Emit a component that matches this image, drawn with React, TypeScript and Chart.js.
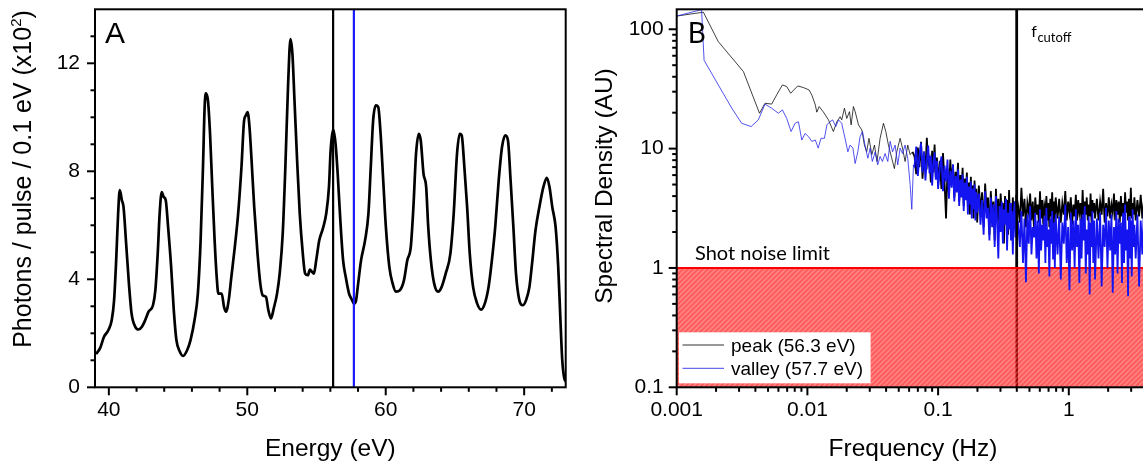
import React, { useEffect, useRef } from "react";
import { Chart, registerables } from "chart.js";

Chart.register(...registerables);

// ---------- Panel A: photon spectrum ----------
const energyEv = [
  39.07, 39.36, 39.65, 39.97, 40.21, 40.38, 40.53, 40.67, 40.79, 40.94, 41.06, 41.25, 41.45, 41.64, 41.91,
  42.15, 42.39, 42.63, 42.87, 43.19, 43.36, 43.53, 43.67, 43.82, 43.96, 44.11, 44.28, 44.5, 44.69, 44.88,
  45.13, 45.37, 45.66, 45.9, 46.19, 46.43, 46.63, 46.8, 46.92, 47.01, 47.16, 47.31, 47.47, 47.64, 47.79,
  47.91, 48.15, 48.32, 48.47, 48.66, 48.85, 49.1, 49.34, 49.58, 49.77, 49.9, 50.02, 50.16, 50.31, 50.5,
  50.74, 50.94, 51.11, 51.35, 51.52, 51.71, 51.91, 52.15, 52.34, 52.56, 52.75, 52.95, 53.12, 53.26, 53.41,
  53.6, 53.79, 54.01, 54.18, 54.38, 54.52, 54.67, 54.81, 54.98, 55.2, 55.46, 55.7, 55.9, 56.02, 56.2,
  56.38, 56.53, 56.72, 56.92, 57.11, 57.35, 57.55, 57.7, 57.85, 57.98, 58.22, 58.51, 58.75, 58.92, 59.09,
  59.29, 59.46, 59.63, 59.82, 60.01, 60.26, 60.5, 60.74, 61.03, 61.32, 61.56, 61.81, 62.0, 62.19, 62.39,
  62.53, 62.73, 62.92, 63.07, 63.26, 63.5, 63.79, 64.04, 64.33, 64.67, 64.91, 65.15, 65.35, 65.49, 65.68,
  65.88, 66.07, 66.31, 66.6, 66.89, 67.16, 67.43, 67.67, 67.91, 68.16, 68.4, 68.64, 68.83, 69.02, 69.22,
  69.41, 69.65, 69.9, 70.14, 70.38, 70.57, 70.82, 71.1, 71.39, 71.64, 71.83, 72.03, 72.27, 72.46, 72.61,
  72.75, 72.9, 73.04,
];
const photonsPerPulse = [
  1.23, 1.44, 1.87, 2.12, 2.49, 3.23, 4.71, 6.43, 7.3, 6.93, 6.68, 5.32, 3.84, 2.74, 2.24,
  2.14, 2.24, 2.49, 2.8, 3.04, 3.6, 4.95, 6.43, 7.23, 7.05, 6.93, 5.94, 4.46, 2.86, 1.75,
  1.32, 1.16, 1.38, 1.75, 2.49, 3.47, 5.45, 8.16, 10.38, 10.89, 10.62, 9.39, 7.42, 5.45, 4.09,
  3.47, 3.47, 2.98, 2.8, 3.23, 4.09, 5.2, 6.43, 8.16, 9.88, 10.07, 10.19, 9.64, 8.4, 6.68,
  4.95, 3.84, 3.41, 3.35, 2.86, 2.55, 2.92, 3.47, 4.21, 5.69, 8.16, 11.24, 12.9, 12.35, 10.62,
  8.4, 6.43, 4.95, 4.21, 4.15, 4.36, 4.28, 4.21, 4.71, 5.45, 5.88, 6.43, 7.42, 8.77, 9.55,
  9.0, 7.91, 6.19, 4.71, 4.09, 3.47, 3.25, 3.1, 3.2, 3.72, 4.71, 5.45, 6.43, 8.16, 9.88,
  10.44, 10.38, 9.39, 7.66, 5.94, 4.46, 3.84, 3.54, 3.6, 3.97, 4.71, 5.2, 6.68, 8.65, 9.39,
  9.14, 7.91, 7.42, 5.94, 4.71, 3.84, 3.54, 3.72, 4.21, 4.95, 6.43, 8.65, 9.39, 9.33, 8.16,
  6.68, 4.95, 3.72, 3.11, 2.88, 3.11, 3.72, 4.71, 5.94, 7.66, 8.9, 9.33, 9.14, 7.66, 5.94,
  4.21, 3.23, 3.04, 3.23, 3.72, 4.58, 5.82, 6.68, 7.42, 7.76, 7.42, 6.68, 5.94, 4.46, 2.61,
  1.01, 0.33, 0.21,
];
const energyTicks = [40, 50, 60, 70];
const photonTicks = [0, 4, 8, 12];
const peakMarkerEv = 56.2;
const valleyMarkerEv = 57.7;

// ---------- Panel B: spectral density ----------
const peakFreqLow = [
  0.001, 0.0016, 0.00208, 0.00324, 0.0043, 0.00474, 0.00533, 0.00582, 0.00644, 0.00695, 0.00745, 0.00843,
  0.00931, 0.0103, 0.0108, 0.0115, 0.0118, 0.0123, 0.0132, 0.0145, 0.0158, 0.0168, 0.0178, 0.0183, 0.0192,
  0.02, 0.021, 0.0216, 0.0225, 0.0232, 0.0246, 0.0261, 0.0273, 0.0284, 0.0296, 0.0311, 0.0326, 0.0341,
  0.036, 0.0382, 0.0398, 0.0417, 0.0442, 0.0463, 0.0483, 0.0512, 0.0534, 0.0559, 0.0586, 0.0611, 0.0637,
];
const peakValsLow = [
  129, 139, 78.8, 44.2, 19.8, 24.0, 23.6, 28.2, 34.2, 33.1, 29.1, 33.5,
  32.5, 31.0, 28.2, 23.2, 20.2, 22.5, 20.4, 17.4, 13.9, 16.8, 18.5, 17.4, 21.8,
  17.9, 20.4, 15.8, 22.5, 20.4, 15.8, 14.3, 10.7, 9.4, 12.2, 8.9, 10.7, 7.8,
  12.2, 16.3, 13.9, 10.7, 8.3, 6.8, 9.4, 12.2, 10.1, 7.8, 10.7, 8.9, 9.4,
];
const valleyFreqLow = [
  0.001, 0.00155, 0.00162, 0.00208, 0.00264, 0.00314, 0.00371, 0.00421, 0.00474, 0.00533, 0.006, 0.00644,
  0.00695, 0.0075, 0.00805, 0.00854, 0.00906, 0.0096, 0.0102, 0.0108, 0.0115, 0.0121, 0.0127, 0.0135,
  0.0141, 0.0149, 0.0156, 0.0165, 0.0173, 0.0183, 0.0194, 0.0204, 0.0212, 0.0223, 0.0232, 0.0243, 0.0253,
  0.0264, 0.0276, 0.029, 0.0302, 0.0314, 0.033, 0.0345, 0.036, 0.0375, 0.0393, 0.0412, 0.043, 0.0448,
  0.0469, 0.0491, 0.0512, 0.0534, 0.0559, 0.0586, 0.0611, 0.0629, 0.0648,
];
const valleyValsLow = [
  129, 146, 55, 34.2, 21.8, 16.3, 15.3, 17.4, 23.6, 21.8, 19.8, 21.1,
  17.9, 13.9, 16.3, 16.8, 11.8, 13.4, 12.6, 11.5, 11.8, 10.1, 12.2, 12.2,
  15.8, 16.8, 17.4, 15.3, 17.4, 16.3, 12.2, 9.4, 10.7, 10.1, 7.5, 9.4, 12.6,
  13.9, 10.7, 8.3, 10.1, 7.8, 9.4, 7.3, 8.6, 7.8, 9.1, 7.8, 11.5, 9.4,
  10.7, 7.3, 10.1, 9.1, 10.7, 8.3, 5.0, 3.1, 7.3,
];
const denseFreq = [
  0.066, 0.068, 0.07, 0.072, 0.074, 0.076, 0.078, 0.08, 0.082, 0.084, 0.086, 0.088, 0.09, 0.092, 0.094, 0.096, 0.098, 0.1,
  0.103, 0.106, 0.109, 0.112, 0.115, 0.118, 0.121, 0.124, 0.127, 0.13, 0.133, 0.136, 0.139, 0.142, 0.145, 0.148, 0.151,
  0.154, 0.157, 0.16, 0.163, 0.166, 0.169, 0.172, 0.175, 0.178, 0.181, 0.184, 0.187, 0.19, 0.193, 0.196, 0.199,
  0.205, 0.211, 0.217, 0.223, 0.229, 0.235, 0.241, 0.247, 0.253, 0.259, 0.265, 0.271, 0.277, 0.283, 0.289, 0.295, 0.301,
  0.307, 0.313, 0.319, 0.325, 0.331, 0.337, 0.343, 0.349, 0.355, 0.361, 0.367, 0.373, 0.379, 0.385, 0.391, 0.397,
  0.41, 0.422, 0.434, 0.446, 0.458, 0.47, 0.482, 0.494, 0.506, 0.518, 0.53, 0.542, 0.554, 0.566, 0.578, 0.59, 0.602,
  0.614, 0.626, 0.638, 0.65, 0.662, 0.674, 0.686, 0.698, 0.71, 0.722, 0.734, 0.746, 0.758, 0.77, 0.782, 0.794,
  0.82, 0.844, 0.868, 0.892, 0.916, 0.94, 0.964, 0.988, 1.012, 1.036, 1.06, 1.084, 1.108, 1.132, 1.156, 1.18, 1.204,
  1.228, 1.252, 1.276, 1.3, 1.324, 1.348, 1.372, 1.396, 1.42, 1.444, 1.468, 1.492, 1.516, 1.54, 1.564, 1.588,
  1.64, 1.688, 1.736, 1.784, 1.832, 1.88, 1.928, 1.976, 2.024, 2.072, 2.12, 2.168, 2.216, 2.264, 2.312, 2.36, 2.408,
  2.456, 2.504, 2.552, 2.6, 2.648, 2.696, 2.744, 2.792, 2.84, 2.888, 2.936, 2.984, 3.032, 3.08, 3.128, 3.176,
  3.25, 3.35, 3.45, 3.55, 3.65, 3.75, 3.85, 3.95,
];
const peakValsDense = [
  8.6, 6.1, 10.2, 7.0, 11.4, 5.6, 9.0, 6.6, 12.3, 7.4, 8.2, 5.2, 9.6, 6.3, 10.8, 5.8, 8.4, 4.9,
  7.9, 4.6, 9.2, 5.3, 2.6, 6.8, 4.2, 8.1, 5.0, 7.3, 3.9, 6.4, 4.8, 7.6, 3.6, 6.0, 4.4,
  6.9, 3.3, 5.6, 4.1, 6.3, 3.2, 5.2, 2.8, 5.8, 3.7, 4.9, 2.6, 5.4, 3.4, 4.6, 2.4,
  4.9, 2.9, 4.3, 2.2, 5.1, 3.1, 3.9, 1.9, 4.4, 2.7, 3.6, 1.7, 4.6, 2.5, 3.8, 2.0, 4.2,
  2.8, 3.5, 1.6, 4.0, 2.4, 3.7, 1.9, 4.5, 2.6, 3.4, 2.1, 3.9, 2.7, 3.6, 2.3, 4.1,
  3.3, 2.4, 4.7, 2.7, 3.8, 2.2, 3.5, 2.9, 4.2, 2.5, 3.6, 2.1, 3.9, 2.8, 3.4, 2.4, 4.4,
  2.6, 3.7, 2.3, 3.3, 2.9, 4.0, 2.5, 3.5, 2.2, 3.8, 2.7, 4.3, 2.4, 3.6, 2.6, 3.9,
  2.6, 3.8, 2.4, 3.5, 2.8, 4.4, 2.5, 3.6, 2.9, 3.9, 2.3, 3.4, 2.7, 4.1, 2.5, 3.7, 2.9,
  3.5, 2.4, 4.5, 2.6, 3.6, 2.8, 3.9, 2.5, 3.4, 2.7, 4.2, 2.4, 3.7, 2.9, 3.5, 2.6,
  3.8, 2.5, 3.6, 2.8, 4.6, 2.4, 3.5, 2.7, 3.9, 2.6, 3.4, 2.9, 4.2, 2.5, 3.7, 2.8, 3.6,
  2.4, 4.0, 2.7, 3.5, 2.6, 4.3, 2.9, 3.6, 2.5, 3.8, 2.7, 4.7, 2.6, 3.5, 2.8, 3.9,
  2.5, 3.7, 2.7, 4.1, 2.6, 3.6, 2.8, 3.9,
];
const valleyValsDense = [
  7.1, 10.4, 5.9, 8.8, 11.2, 6.3, 9.5, 5.4, 8.0, 10.6, 6.2, 8.7, 4.9, 7.6, 9.3, 5.5, 7.9, 4.6,
  6.8, 8.6, 4.4, 7.2, 5.3, 8.1, 3.8, 6.5, 4.7, 7.4, 3.6, 5.9, 4.3, 6.7, 3.3, 5.5, 3.9,
  6.1, 3.0, 5.2, 3.7, 5.8, 2.8, 4.8, 3.4, 5.3, 2.6, 4.6, 3.1, 5.0, 2.5, 4.3, 2.9,
  4.2, 2.3, 3.7, 1.9, 4.4, 2.6, 3.2, 1.7, 3.9, 2.2, 3.4, 1.5, 4.0, 2.4, 1.2, 3.3, 2.0,
  3.6, 1.6, 3.1, 2.3, 3.8, 1.4, 2.9, 2.1, 3.5, 1.7, 3.0, 1.3, 2.7, 3.6, 1.8, 2.6,
  2.4, 1.5, 3.0, 1.1, 2.6, 0.76, 2.8, 1.6, 3.3, 1.3, 2.2, 1.8, 2.9, 1.2, 2.5, 0.9, 3.1,
  1.4, 2.3, 1.7, 2.7, 1.1, 3.2, 1.5, 2.1, 0.85, 2.6, 1.6, 3.0, 1.2, 2.4, 1.0, 2.8,
  1.3, 2.7, 0.8, 2.4, 1.6, 3.4, 1.1, 2.2, 0.65, 2.9, 1.4, 2.5, 1.0, 3.1, 1.5, 2.3, 0.75,
  2.6, 1.2, 2.8, 1.7, 3.3, 0.9, 2.1, 1.3, 2.7, 0.6, 2.4, 1.5, 3.0, 1.1, 2.5, 0.8,
  2.6, 1.2, 2.9, 0.7, 2.3, 1.5, 3.2, 1.0, 2.5, 1.4, 2.8, 0.62, 2.2, 1.3, 3.0, 0.9, 2.6,
  1.6, 2.4, 0.75, 2.9, 1.1, 3.4, 1.4, 2.1, 0.58, 2.7, 1.2, 2.5, 0.85, 3.1, 1.5, 2.3,
  1.2, 2.8, 0.7, 2.5, 1.3, 3.0, 0.9, 2.6,
];
const freqTicks = [0.001, 0.01, 0.1, 1];
const freqTickLabels = ["0.001", "0.01", "0.1", "1"];
const densityTicks = [0.1, 1, 10, 100];
const densityTickLabels = ["0.1", "1", "10", "100"];
const cutoffHz = 0.4;
const shotNoiseLevel = 1;
const legendLabels = ["peak (56.3 eV)", "valley (57.7 eV)"];

const SANS = "'Liberation Sans', Arial, sans-serif";
const CAL = "Lato, 'Open Sans', sans-serif";
const BLUE = "#1414f0";

function seg(ctx: CanvasRenderingContext2D, x1: number, y1: number, x2: number, y2: number) {
  ctx.beginPath();
  ctx.moveTo(x1, y1);
  ctx.lineTo(x2, y2);
  ctx.stroke();
}

function drawTicks(ctx: CanvasRenderingContext2D, chart: any, xMajor: number[], xMinor: number[], yMajor: number[], yMinor: number[]) {
  const { left, bottom } = chart.chartArea;
  const xs = chart.scales.x;
  const ys = chart.scales.y;
  ctx.strokeStyle = "#000";
  ctx.lineWidth = 2;
  xMajor.forEach((v) => { const p = xs.getPixelForValue(v); seg(ctx, p, bottom, p, bottom + 8); });
  xMinor.forEach((v) => { const p = xs.getPixelForValue(v); seg(ctx, p, bottom, p, bottom + 4.5); });
  yMajor.forEach((v) => { const p = ys.getPixelForValue(v); seg(ctx, left, p, left - 8, p); });
  yMinor.forEach((v) => { const p = ys.getPixelForValue(v); seg(ctx, left, p, left - 4.5, p); });
}

const plotA = {
  id: "plotA",
  afterDatasetsDraw(chart: any) {
    const ctx = chart.ctx as CanvasRenderingContext2D;
    const { top, bottom } = chart.chartArea;
    const xs = chart.scales.x;
    ctx.save();
    ctx.lineWidth = 2.2;
    ctx.strokeStyle = "#000";
    const xp = xs.getPixelForValue(peakMarkerEv);
    seg(ctx, xp, top, xp, bottom);
    ctx.strokeStyle = "#1a1aff";
    const xv = xs.getPixelForValue(valleyMarkerEv);
    seg(ctx, xv, top, xv, bottom);
    ctx.restore();
  },
  afterDraw(chart: any) {
    const ctx = chart.ctx as CanvasRenderingContext2D;
    const { left, right, top, bottom } = chart.chartArea;
    ctx.save();
    const xMinor: number[] = [];
    for (let v = 40; v <= 72; v += 2) if (!energyTicks.includes(v)) xMinor.push(v);
    const yMinor: number[] = [];
    for (let v = 1; v <= 13; v += 1) if (!photonTicks.includes(v)) yMinor.push(v);
    drawTicks(ctx, chart, energyTicks, xMinor, photonTicks, yMinor);
    ctx.strokeStyle = "#000";
    ctx.lineWidth = 2;
    ctx.strokeRect(left, top, right - left, bottom - top);
    ctx.fillStyle = "#000";
    ctx.font = `30px ${SANS}`;
    ctx.textAlign = "left";
    ctx.textBaseline = "alphabetic";
    ctx.fillText("A", 105, 43);
    ctx.font = `24.5px ${SANS}`;
    ctx.textAlign = "center";
    ctx.fillText("Energy (eV)", (left + right) / 2, 456);
    ctx.translate(31, 179);
    ctx.rotate(-Math.PI / 2);
    const main = "Photons / pulse / 0.1 eV (x10";
    const sup = "2";
    const end = ")";
    ctx.font = `25px ${SANS}`;
    const w1 = ctx.measureText(main).width;
    const w3 = ctx.measureText(end).width;
    ctx.font = `15px ${SANS}`;
    const w2 = ctx.measureText(sup).width;
    const x0 = -(w1 + w2 + w3) / 2;
    ctx.textAlign = "left";
    ctx.font = `25px ${SANS}`;
    ctx.fillText(main, x0, 0);
    ctx.font = `15px ${SANS}`;
    ctx.fillText(sup, x0 + w1, -10);
    ctx.font = `25px ${SANS}`;
    ctx.fillText(end, x0 + w1 + w2, 0);
    ctx.restore();
  },
};

const plotB = {
  id: "plotB",
  beforeDatasetsDraw(chart: any) {
    const ctx = chart.ctx as CanvasRenderingContext2D;
    const { left, right, top, bottom } = chart.chartArea;
    const xs = chart.scales.x;
    const ys = chart.scales.y;
    ctx.save();
    const xc = xs.getPixelForValue(cutoffHz);
    ctx.strokeStyle = "#000";
    ctx.lineWidth = 2.5;
    seg(ctx, xc, top, xc, bottom);
    const yl = ys.getPixelForValue(shotNoiseLevel);
    ctx.fillStyle = "rgba(255,0,0,0.64)";
    ctx.fillRect(left, yl, right - left, bottom - yl);
    ctx.save();
    ctx.beginPath();
    ctx.rect(left, yl, right - left, bottom - yl);
    ctx.clip();
    ctx.strokeStyle = "rgba(255,255,255,0.25)";
    ctx.lineWidth = 1.5;
    const h = bottom - yl;
    ctx.beginPath();
    for (let k = left - h; k < right; k += 5) {
      ctx.moveTo(k, bottom);
      ctx.lineTo(k + h, yl);
    }
    ctx.stroke();
    ctx.restore();
    ctx.strokeStyle = "#ff0000";
    ctx.lineWidth = 2;
    seg(ctx, left, yl, right, yl);
    ctx.restore();
  },
  afterDatasetsDraw(chart: any) {
    const ctx = chart.ctx as CanvasRenderingContext2D;
    const { left, top } = chart.chartArea;
    const xs = chart.scales.x;
    const ys = chart.scales.y;
    ctx.save();
    const xc = xs.getPixelForValue(cutoffHz);
    const yl = ys.getPixelForValue(shotNoiseLevel);
    ctx.strokeStyle = "#000";
    ctx.lineWidth = 2.5;
    seg(ctx, xc, top, xc, yl - 1);
    // legend
    ctx.fillStyle = "#fff";
    ctx.fillRect(left + 2.3, 332.3, 191.6, 51);
    ctx.lineWidth = 1;
    ctx.strokeStyle = "#333";
    seg(ctx, left + 5.8, 345, left + 47.3, 345);
    ctx.strokeStyle = "#4444e8";
    seg(ctx, left + 5.8, 368.3, left + 47.3, 368.3);
    ctx.fillStyle = "#000";
    ctx.font = `19px ${SANS}`;
    ctx.textAlign = "left";
    ctx.textBaseline = "middle";
    ctx.fillText(legendLabels[0], left + 54.3, 346.7);
    ctx.fillText(legendLabels[1], left + 54.3, 370);
    ctx.textBaseline = "alphabetic";
    ctx.font = `20px ${CAL}`;
    ctx.fillText("Shot noise limit", left + 18.3, yl - 7.7);
    ctx.font = `16px ${CAL}`;
    ctx.fillText("f", xc + 14.5, 37);
    const fw = ctx.measureText("f").width;
    ctx.font = `13px ${CAL}`;
    ctx.fillText("cutoff", xc + 14.5 + fw + 0.5, 42);
    ctx.restore();
  },
  afterDraw(chart: any) {
    const ctx = chart.ctx as CanvasRenderingContext2D;
    const { left, right, top, bottom } = chart.chartArea;
    ctx.save();
    const xMinor: number[] = [];
    freqTicks.forEach((d) => { for (let m = 2; m <= 9; m++) xMinor.push(d * m); });
    const yMinor: number[] = [];
    densityTicks.forEach((d) => { for (let m = 2; m <= 9; m++) if (d * m <= 147) yMinor.push(d * m); });
    drawTicks(ctx, chart, freqTicks, xMinor, densityTicks, yMinor);
    ctx.strokeStyle = "#000";
    ctx.lineWidth = 2;
    ctx.strokeRect(left, top, right - left, bottom - top);
    ctx.fillStyle = "#000";
    ctx.font = `28px ${CAL}`;
    ctx.textAlign = "left";
    ctx.textBaseline = "alphabetic";
    ctx.fillText("B", left + 11, 43);
    ctx.font = `24.5px ${SANS}`;
    ctx.textAlign = "center";
    ctx.fillText("Frequency (Hz)", 333, 456);
    ctx.translate(32, 186);
    ctx.rotate(-Math.PI / 2);
    ctx.font = `24.5px ${SANS}`;
    ctx.fillText("Spectral Density (AU)", 0, 0);
    ctx.restore();
  },
};

const tickFont = { family: SANS, size: 21 };

function noPad(s: any) {
  s.paddingTop = 0;
  s.paddingBottom = 0;
  s.paddingLeft = 0;
  s.paddingRight = 0;
}

function makeA(canvas: HTMLCanvasElement) {
  const pts = energyEv.map((x, i) => ({ x, y: photonsPerPulse[i] }));
  return new Chart(canvas, {
    type: "line",
    data: {
      datasets: [
        { data: pts, borderColor: "#000", borderWidth: 2.7, pointRadius: 0, cubicInterpolationMode: "monotone", fill: false },
      ],
    },
    options: {
      animation: false,
      responsive: false,
      devicePixelRatio: 1,
      events: [],
      layout: { padding: { left: 0, right: 34.3, top: 9.3, bottom: 0 } },
      plugins: { legend: { display: false }, tooltip: { enabled: false } },
      scales: {
        x: {
          type: "linear",
          min: 39,
          max: 73,
          grid: { display: false, drawTicks: false },
          border: { display: false },
          ticks: { autoSkip: false, maxRotation: 0, padding: 10, color: "#000", font: tickFont, callback: (v: any) => String(v) },
          afterBuildTicks: (s: any) => { s.ticks = energyTicks.map((value) => ({ value })); },
          afterFit: (s: any) => { s.height = 76.7; noPad(s); },
        },
        y: {
          type: "linear",
          min: 0,
          max: 14,
          grid: { display: false, drawTicks: false },
          border: { display: false },
          ticks: { autoSkip: false, padding: 15, color: "#000", font: tickFont, callback: (v: any) => String(v) },
          afterBuildTicks: (s: any) => { s.ticks = photonTicks.map((value) => ({ value })); },
          afterFit: (s: any) => { s.width = 95; noPad(s); },
        },
      },
    } as any,
    plugins: [plotA],
  });
}

function makeB(canvas: HTMLCanvasElement) {
  const peakLow = peakFreqLow.map((x, i) => ({ x, y: peakValsLow[i] }));
  const valleyLow = valleyFreqLow.map((x, i) => ({ x, y: valleyValsLow[i] }));
  const peakDense = [peakLow[peakLow.length - 1], ...denseFreq.map((x, i) => ({ x, y: peakValsDense[i] }))];
  const valleyDense = [valleyLow[valleyLow.length - 1], ...denseFreq.map((x, i) => ({ x, y: valleyValsDense[i] }))];
  const common = { pointRadius: 0, fill: false };
  return new Chart(canvas, {
    type: "line",
    data: {
      datasets: [
        { label: legendLabels[1], data: valleyDense, borderColor: BLUE, borderWidth: 1.8, ...common },
        { label: legendLabels[1], data: valleyLow, borderColor: "rgba(40,40,235,0.8)", borderWidth: 1, ...common },
        { label: legendLabels[0], data: peakDense, borderColor: "#000", borderWidth: 1.8, ...common },
        { label: legendLabels[0], data: peakLow, borderColor: "rgba(0,0,0,0.75)", borderWidth: 1, ...common },
      ],
    },
    options: {
      animation: false,
      responsive: false,
      devicePixelRatio: 1,
      events: [],
      layout: { padding: { left: 0, right: 20.5, top: 9.3, bottom: 0 } },
      plugins: { legend: { display: false }, tooltip: { enabled: false } },
      scales: {
        x: {
          type: "logarithmic",
          min: 0.001,
          max: 10,
          grid: { display: false, drawTicks: false },
          border: { display: false },
          ticks: { autoSkip: false, maxRotation: 0, padding: 10, color: "#000", font: tickFont, callback: (_v: any, i: number) => freqTickLabels[i] },
          afterBuildTicks: (s: any) => { s.ticks = freqTicks.map((value) => ({ value })); },
          afterFit: (s: any) => { s.height = 76.7; noPad(s); },
        },
        y: {
          type: "logarithmic",
          min: 0.1,
          max: 147,
          grid: { display: false, drawTicks: false },
          border: { display: false },
          ticks: { autoSkip: false, padding: 13, color: "#000", font: tickFont, callback: (_v: any, i: number) => densityTickLabels[i] },
          afterBuildTicks: (s: any) => { s.ticks = densityTicks.map((value) => ({ value })); },
          afterFit: (s: any) => { s.width = 96.7; noPad(s); },
        },
      },
    } as any,
    plugins: [plotB],
  });
}

export default function App() {
  const refA = useRef<HTMLCanvasElement>(null);
  const refB = useRef<HTMLCanvasElement>(null);
  useEffect(() => {
    const a = makeA(refA.current!);
    const b = makeB(refB.current!);
    return () => {
      a.destroy();
      b.destroy();
    };
  }, []);
  return (
    <div style={{ position: "absolute", left: 0, top: 0, width: 1143, height: 464, overflow: "hidden", background: "#fff" }}>
      <canvas ref={refA} width={600} height={464} style={{ position: "absolute", left: 0, top: 0, width: 600, height: 464 }} />
      <canvas ref={refB} width={640} height={464} style={{ position: "absolute", left: 580, top: 0, width: 640, height: 464 }} />
    </div>
  );
}
